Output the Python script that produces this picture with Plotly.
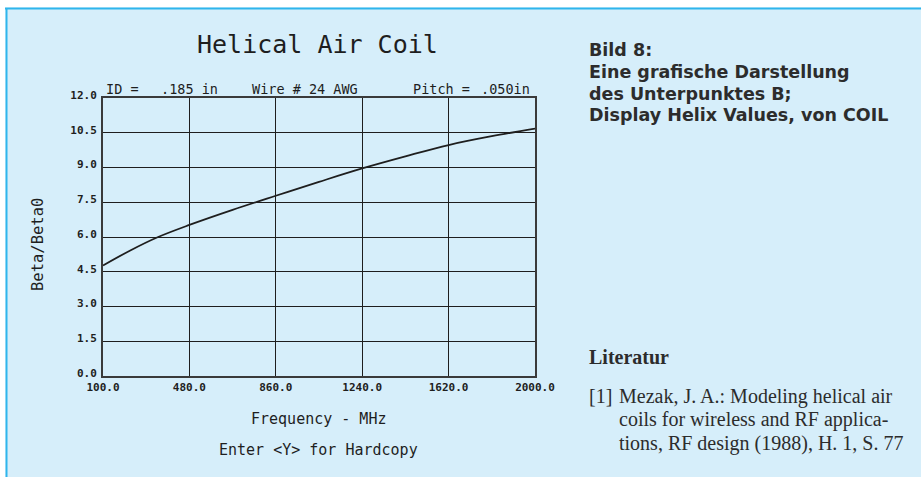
import plotly.graph_objects as go

# Beta/Beta0 of a helical air coil versus frequency
freq_mhz = [100, 220, 340, 480, 670, 860, 1050, 1240, 1430, 1620, 1810, 2000]
beta_ratio = [4.77, 5.42, 5.99, 6.52, 7.17, 7.78, 8.38, 8.96, 9.48, 9.97, 10.35, 10.68]

x_ticks = [100, 480, 860, 1240, 1620, 2000]
y_ticks = [0, 1.5, 3, 4.5, 6, 7.5, 9, 10.5, 12]

W, H = 921, 477
L, R, T, B = 103, 535, 98, 376  # plot area in pixels

BG = "#d6eefa"
FRAME = "#2fb5ec"
INK = "#1e1e1e"
TEXT = "#2c2c2c"
MONO = "DejaVu Sans Mono"


def px(x):
    return (x - L) / (R - L)


def py(y):
    return (B - y) / (B - T)


fig = go.Figure()
fig.add_trace(go.Scatter(
    x=freq_mhz, y=beta_ratio, mode="lines",
    line=dict(color=INK, width=1.8, shape="spline", smoothing=1.0),
    hoverinfo="skip", showlegend=False,
))

axis_common = dict(
    showgrid=True, gridcolor=INK, gridwidth=1.4,
    showline=True, linecolor="#3a3a3a", linewidth=2, mirror=True,
    zeroline=False, ticks="", tickformat=".1f",
    tickfont=dict(family=MONO, size=11, color=INK, weight="bold"),
)

fig.update_xaxes(range=[100, 2000], tickvals=x_ticks, ticklabelstandoff=0, **axis_common)
fig.update_yaxes(range=[0, 12], tickvals=y_ticks, ticklabelstandoff=2, ticklabelshift=-3,
                 **axis_common)

shapes = [
    # white strips outside the panel
    dict(type="rect", xref="paper", yref="paper", x0=px(0), x1=px(W), y0=py(0), y1=py(7.5),
         fillcolor="white", line_width=0, layer="below"),
    dict(type="rect", xref="paper", yref="paper", x0=px(0), x1=px(5.5), y0=py(0), y1=py(H),
         fillcolor="white", line_width=0, layer="below"),
    # panel frame lines
    dict(type="line", xref="paper", yref="paper", x0=px(5), x1=px(W), y0=py(8.5), y1=py(8.5),
         line=dict(color=FRAME, width=2)),
    dict(type="line", xref="paper", yref="paper", x0=px(6.5), x1=px(6.5), y0=py(8), y1=py(H),
         line=dict(color=FRAME, width=2)),
]

annotations = [
    dict(text="Helical Air Coil", x=px(317), y=py(44), font=dict(family=MONO, size=25, color=INK)),
    dict(text="Frequency - MHz", x=px(318), y=py(419), font=dict(family=MONO, size=15, color=INK)),
    dict(text="Enter &lt;Y&gt; for Hardcopy", x=px(318), y=py(450),
         font=dict(family=MONO, size=15, color=INK)),
    dict(text="Beta/Beta0", x=px(38), y=py(245), textangle=-90,
         font=dict(family=MONO, size=15.5, color=INK)),
]

# coil parameters printed above the grid
params = [("ID =", 104), (".185 in", 159), ("Wire # 24 AWG", 250), ("Pitch =", 411),
          (".050in", 479)]
for text, left in params:
    annotations.append(dict(text=text, x=px(left), y=py(89), xanchor="left",
                            font=dict(family=MONO, size=13.5, color=INK)))

caption = ["Bild 8:", "Eine grafische Darstellung", "des Unterpunktes B;",
           "Display Helix Values, von COIL"]
for i, line in enumerate(caption):
    annotations.append(dict(text=line, x=px(587), y=py(50 + i * 21.8), xanchor="left",
                            font=dict(family="DejaVu Sans", size=17.5, color=TEXT,
                                      weight="bold")))

annotations.append(dict(text="Literatur", x=px(587), y=py(357), xanchor="left",
                        font=dict(family="Liberation Serif", size=20, color=TEXT,
                                  weight="bold")))
annotations.append(dict(text="[1]", x=px(587), y=py(396), xanchor="left",
                        font=dict(family="Liberation Serif", size=20, color=TEXT)))
reference = ["Mezak, J. A.: Modeling helical air", "coils for wireless and RF applica-",
             "tions, RF design (1988), H. 1, S. 77"]
for i, line in enumerate(reference):
    annotations.append(dict(text=line, x=px(617), y=py(396 + i * 23.5), xanchor="left",
                            font=dict(family="Liberation Serif", size=20, color=TEXT)))

for a in annotations:
    a.setdefault("xanchor", "center")
    a.update(xref="paper", yref="paper", yanchor="middle", showarrow=False)

fig.update_layout(
    width=W, height=H,
    margin=dict(l=L, r=W - R, t=T, b=H - B),
    paper_bgcolor=BG, plot_bgcolor=BG,
    shapes=shapes, annotations=annotations,
    showlegend=False,
)

fig.write_html("out.html")
